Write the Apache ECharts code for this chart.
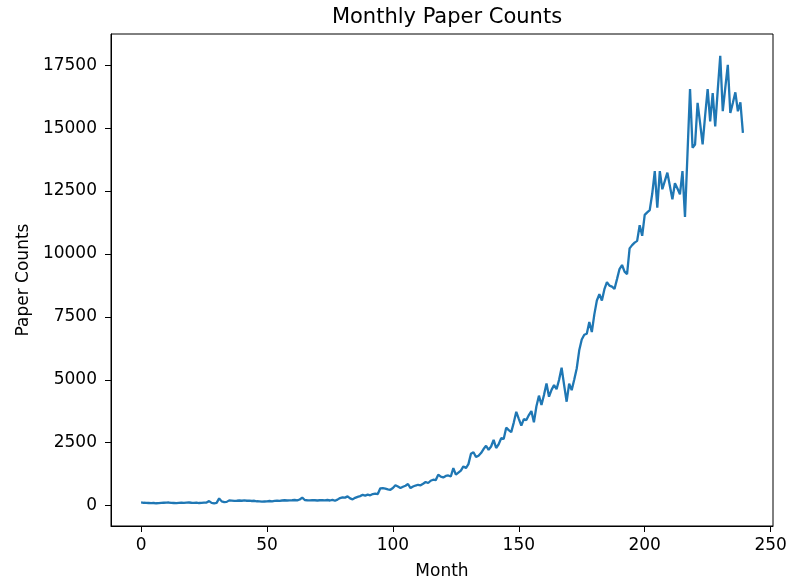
<!DOCTYPE html>
<html>
<head>
<meta charset="utf-8">
<script src="https://cdn.jsdelivr.net/npm/echarts@6/dist/echarts.min.js"></script>
<style>
  html, body { margin: 0; padding: 0; background: #fff; }
  #chart { width: 791px; height: 585px; }
</style>
</head>
<body>
<div id="chart"></div>
<script>
// monthly paper counts (month 0..239)
var counts = [
  130, 115, 110, 105, 100, 105, 95, 100, 110, 115,
  120, 125, 110, 105, 100, 110, 115, 110, 120, 125,
  115, 110, 120, 105, 110, 120, 125, 180, 110, 95,
  110, 290, 170, 140, 150, 210, 200, 190, 195, 205,
  195, 210, 195, 200, 185, 195, 175, 170, 160, 165,
  170, 185, 170, 190, 200, 190, 205, 215, 205, 210,
  215, 225, 210, 245, 320, 225, 215, 210, 220, 215,
  205, 215, 220, 210, 225, 205, 230, 195, 240, 300,
  330, 320, 370, 290, 250, 310, 350, 380, 430, 400,
  440, 410, 460, 480, 460, 690, 700, 680, 650, 630,
  700, 810, 760, 700, 750, 790, 860, 700, 760, 800,
  830, 810, 870, 940, 900, 990, 1030, 1010, 1230, 1150,
  1120, 1180, 1200, 1160, 1490, 1230, 1310, 1390, 1560, 1490,
  1650, 2060, 2120, 1930, 1980, 2090, 2250, 2380, 2220, 2350,
  2610, 2290, 2440, 2680, 2650, 3100, 3000, 2920, 3300, 3730,
  3450, 3180, 3440, 3400, 3600, 3760, 3310, 3950, 4370, 4000,
  4400, 4850, 4330, 4600, 4790, 4630, 5000, 5480, 4790, 4130,
  4850, 4590, 5000, 5450, 6170, 6600, 6790, 6830, 7300, 6900,
  7600, 8150, 8400, 8150, 8600, 8880, 8740, 8700, 8610, 9000,
  9400, 9560, 9300, 9200, 10220, 10350, 10450, 10520, 11140, 10720,
  11550, 11650, 11740, 12400, 13290, 11840, 13290, 12570, 12900, 13230,
  12700, 12170, 12810, 12600, 12370, 13290, 11470, 14000, 16550, 14220,
  14350, 16000, 15200, 14350, 15500, 16550, 15270, 16390, 15070, 16500,
  17870, 15670, 16600, 17510, 15600, 16000, 16420, 15670, 16020, 14810
];
var xTicks = [0, 50, 100, 150, 200, 250];
var yTicks = [0, 2500, 5000, 7500, 10000, 12500, 15000, 17500];

var seriesData = [];
for (var i = 0; i < counts.length; i++) {
  seriesData.push([i, counts[i]]);
}

var chart = echarts.init(document.getElementById('chart'), null, { renderer: 'canvas' });
var fontFamily = 'DejaVu Sans';

var option = {
  backgroundColor: '#fff',
  animation: false,
  title: {
    text: 'Monthly Paper Counts',
    left: 442,
    textAlign: 'center',
    top: 2,
    textStyle: { fontFamily: fontFamily, fontSize: 21, fontWeight: 'normal', color: '#000' }
  },
  grid: {
    left: 111, top: 34, right: 18, bottom: 57,
    show: true, borderColor: '#000', borderWidth: 1,
    containLabel: false
  },
  xAxis: {
    type: 'value',
    min: -11.95,
    max: 250.95,
    name: 'Month',
    nameLocation: 'middle',
    nameGap: 37,
    nameTextStyle: { fontFamily: fontFamily, fontSize: 17, color: '#000' },
    axisLine: { show: true, onZero: false, lineStyle: { color: '#000', width: 1 } },
    axisTick: { show: true, inside: false, length: 6, customValues: xTicks, lineStyle: { color: '#000' } },
    axisLabel: { customValues: xTicks, margin: 11, fontFamily: fontFamily, fontSize: 17, color: '#000',
      formatter: function (v) { return String(v); } },
    splitLine: { show: false }
  },
  yAxis: {
    type: 'value',
    min: -808,
    max: 18738,
    name: 'Paper Counts',
    nameLocation: 'middle',
    nameGap: 77,
    nameRotate: 90,
    nameTextStyle: { fontFamily: fontFamily, fontSize: 17, color: '#000' },
    axisLine: { show: true, onZero: false, lineStyle: { color: '#000', width: 1 } },
    axisTick: { show: true, inside: false, length: 6, customValues: yTicks, lineStyle: { color: '#000' } },
    axisLabel: { customValues: yTicks, margin: 14, fontFamily: fontFamily, fontSize: 17, color: '#000',
      formatter: function (v) { return String(v); } },
    splitLine: { show: false }
  },
  series: [{
    type: 'line',
    data: seriesData,
    showSymbol: false,
    symbol: 'none',
    lineStyle: { color: '#1f77b4', width: 2.3 },
    itemStyle: { color: '#1f77b4' }
  }]
};
chart.setOption(option);
</script>
</body>
</html>
